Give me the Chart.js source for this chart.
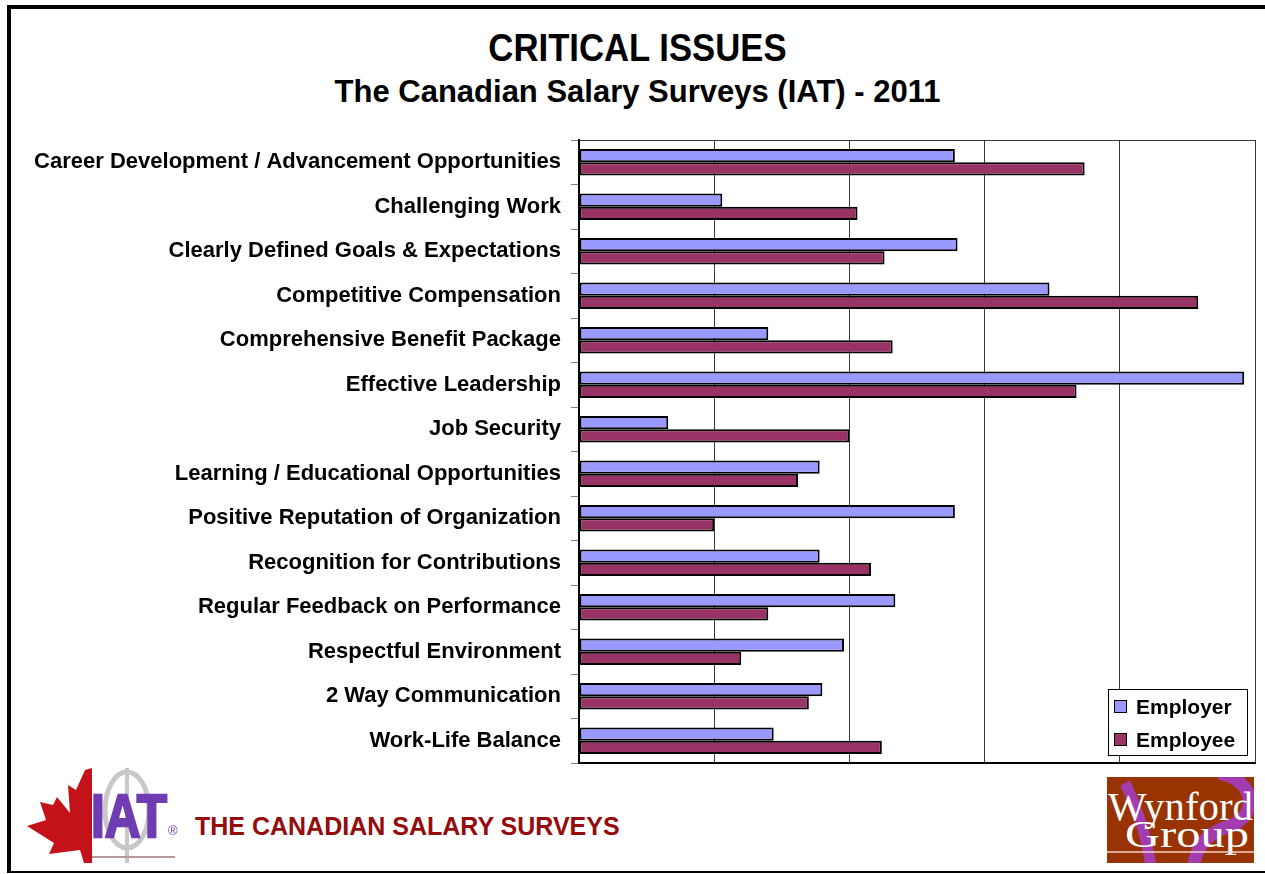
<!DOCTYPE html>
<html>
<head>
<meta charset="utf-8">
<script src="https://cdn.jsdelivr.net/npm/chart.js@4.4.0/dist/chart.umd.min.js"></script>
<style>
    body {
        margin: 0;
        width: 1265px;
        height: 874px;
        overflow: hidden;
        position: relative;
        background: #ffffff;
        font-family: "Liberation Sans", Arial, sans-serif;
    }
    #frame {
        position: absolute;
        left: 7px;
        top: 5px;
        width: 1270px;
        height: 862px;
        border-top: 4px solid #000;
        border-left: 4px solid #000;
        border-bottom: 2px solid #000;
    }
    .heading {
        position: absolute;
        left: 0;
        width: 1275px;
        text-align: center;
        font-weight: bold;
        color: #000;
        white-space: nowrap;
    }
    #title {
        top: 28px;
        font-size: 39px;
        line-height: 39px;
        transform: scaleX(0.89);
    }
    #subtitle {
        top: 76px;
        font-size: 31px;
        line-height: 31px;
    }
    #chartBox {
        position: absolute;
        left: 20px;
        top: 130px;
        width: 1245px;
        height: 650px;
    }
    #footerText {
        position: absolute;
        left: 195px;
        top: 814px;
        font-size: 25px;
        line-height: 25px;
        font-weight: bold;
        color: #960b0b;
        white-space: nowrap;
    }
    #iatLogo {
        position: absolute;
        left: 22px;
        top: 768px;
    }
    #wynfordLogo {
        position: absolute;
        left: 1107px;
        top: 777px;
    }
</style>
</head>
<body>
<div id="frame"></div>
<div id="title" class="heading">CRITICAL ISSUES</div>
<div id="subtitle" class="heading">The Canadian Salary Surveys (IAT) - 2011</div>

<div id="chartBox"><canvas id="criticalIssues" width="1245" height="650"></canvas></div>

<svg id="iatLogo" width="160" height="96" viewBox="0 0 160 96">
    <polygon points="63,2 54,22 46,17 48,45 35,29 31,37 18,34 24,52 5,58 32,75 27,86 58,82 62,95 70,95 70,0" fill="#c4121a"/>
    <ellipse cx="105" cy="42" rx="22" ry="38" fill="none" stroke="#c8c8c8" stroke-width="5"/>
    <line x1="105" y1="0" x2="105" y2="95" stroke="#c8c8c8" stroke-width="4"/>
    <text x="69" y="69" font-family="Liberation Sans" font-weight="bold" font-size="62" fill="#6f3cb4"
          stroke="#6f3cb4" stroke-width="2.5"
          textLength="76" lengthAdjust="spacingAndGlyphs">IAT</text>
    <text x="146" y="67" font-family="Liberation Sans" font-size="13" fill="#6f3cb4">®</text>
    <line x1="70" y1="89" x2="153" y2="89" stroke="#b49a9a" stroke-width="2"/>
</svg>
<div id="footerText">THE CANADIAN SALARY SURVEYS</div>

<svg id="wynfordLogo" width="147" height="86" viewBox="0 0 147 86">
    <rect x="0" y="0" width="147" height="86" fill="#993300"/>
    <path d="M 112 -4 C 150 4, 152 40, 120 50 C 98 57, 90 70, 86 90" fill="none" stroke="#a33cb0" stroke-width="13"/>
    <path d="M 18 6 C 30 30, 40 60, 44 90" fill="none" stroke="#a33cb0" stroke-width="11"/>
    <text x="1" y="43" font-family="Liberation Serif" font-size="40" fill="#ffffff"
          textLength="145" lengthAdjust="spacingAndGlyphs">Wynford</text>
    <text x="18" y="70" font-family="Liberation Serif" font-size="38" fill="#ffffff"
          textLength="124" lengthAdjust="spacingAndGlyphs">Group</text>
    <line x1="0" y1="75" x2="147" y2="75" stroke="#f3d6c8" stroke-width="1.5"/>
</svg>

<script>
const categories = [
    'Career Development / Advancement Opportunities',
    'Challenging Work',
    'Clearly Defined Goals & Expectations',
    'Competitive Compensation',
    'Comprehensive Benefit Package',
    'Effective Leadership',
    'Job Security',
    'Learning / Educational Opportunities',
    'Positive Reputation of Organization',
    'Recognition for Contributions',
    'Regular Feedback on Performance',
    'Respectful Environment',
    '2 Way Communication',
    'Work-Life Balance'
];
const employerValues = [13.9, 5.3, 14.0, 17.4, 7.0, 24.6, 3.3, 8.9, 13.9, 8.9, 11.7, 9.8, 9.0, 7.2];
const employeeValues = [18.7, 10.3, 11.3, 22.9, 11.6, 18.4, 10.0, 8.1, 5.0, 10.8, 7.0, 6.0, 8.5, 11.2];
const seriesNames = ['Employer', 'Employee'];

// top edge of the plot frame
const plotFrame = {
    id: 'plotFrame',
    beforeDatasetsDraw(chart) {
        const ctx = chart.ctx;
        const a = chart.chartArea;
        ctx.save();
        ctx.strokeStyle = '#3a3a3a';
        ctx.lineWidth = 1;
        ctx.beginPath();
        ctx.moveTo(a.left, a.top + 0.5);
        ctx.lineTo(a.right, a.top + 0.5);
        ctx.stroke();
        ctx.restore();
    }
};

// boxed legend in the lower right corner of the plot
const boxLegend = {
    id: 'boxLegend',
    afterDraw(chart) {
        const ctx = chart.ctx;
        const a = chart.chartArea;
        const w = 139, h = 66;
        const x = a.right - 8 - w;
        const y = a.bottom - 8 - h;
        ctx.save();
        ctx.fillStyle = '#ffffff';
        ctx.fillRect(x, y, w, h);
        ctx.strokeStyle = '#000000';
        ctx.lineWidth = 1;
        ctx.strokeRect(x + 0.5, y + 0.5, w, h);
        ctx.font = 'bold 21px "Liberation Sans", Arial, sans-serif';
        ctx.textBaseline = 'middle';
        ctx.textAlign = 'left';
        chart.data.datasets.forEach((ds, i) => {
            const cy = y + 18 + i * 33;
            ctx.fillStyle = ds.backgroundColor;
            ctx.fillRect(x + 6, cy - 7, 13, 13);
            ctx.strokeStyle = '#000000';
            ctx.strokeRect(x + 6.5, cy - 6.5, 12, 12);
            ctx.fillStyle = '#000000';
            ctx.fillText(ds.label, x + 28, cy + 1);
        });
        ctx.restore();
    }
};

function noScalePadding(scale) {
    scale.paddingTop = 0;
    scale.paddingBottom = 0;
    scale.paddingLeft = 0;
    scale.paddingRight = 0;
}

const data = {
    labels: categories,
    datasets: [{
        label: seriesNames[0],
        data: employerValues,
        backgroundColor: '#9999ff',
        borderColor: '#000000',
        borderWidth: 2,
        borderSkipped: false,
        categoryPercentage: 0.6,
        barPercentage: 1.0
    }, {
        label: seriesNames[1],
        data: employeeValues,
        backgroundColor: '#993366',
        borderColor: '#000000',
        borderWidth: 2,
        borderSkipped: false,
        categoryPercentage: 0.6,
        barPercentage: 1.0
    }]
};

const config = {
    type: 'bar',
    data: data,
    options: {
        indexAxis: 'y',
        responsive: false,
        animation: false,
        layout: {
            padding: { left: 0, right: 10, top: 10, bottom: 17 }
        },
        plugins: {
            legend: { display: false },
            tooltip: { enabled: false }
        },
        scales: {
            x: {
                type: 'linear',
                min: 0,
                max: 25,
                ticks: { display: false, stepSize: 5 },
                grid: { color: '#3a3a3a', lineWidth: 1, drawTicks: false },
                border: { color: '#000000', width: 2 },
                afterFit(scale) {
                    scale.height = 0;
                    noScalePadding(scale);
                }
            },
            y: {
                ticks: {
                    color: '#000000',
                    autoSkip: false,
                    padding: 10,
                    font: {
                        family: '"Liberation Sans", Arial, sans-serif',
                        size: 22,
                        weight: 'bold'
                    }
                },
                grid: { drawOnChartArea: false, tickLength: 8, color: '#7f7f7f', offset: true },
                border: { color: '#000000', width: 2 },
                afterFit(scale) {
                    scale.width = 559;
                    noScalePadding(scale);
                }
            }
        }
    },
    plugins: [plotFrame, boxLegend]
};

var issuesChart = new Chart(
    document.getElementById('criticalIssues'),
    config
);
</script>
</body>
</html>
